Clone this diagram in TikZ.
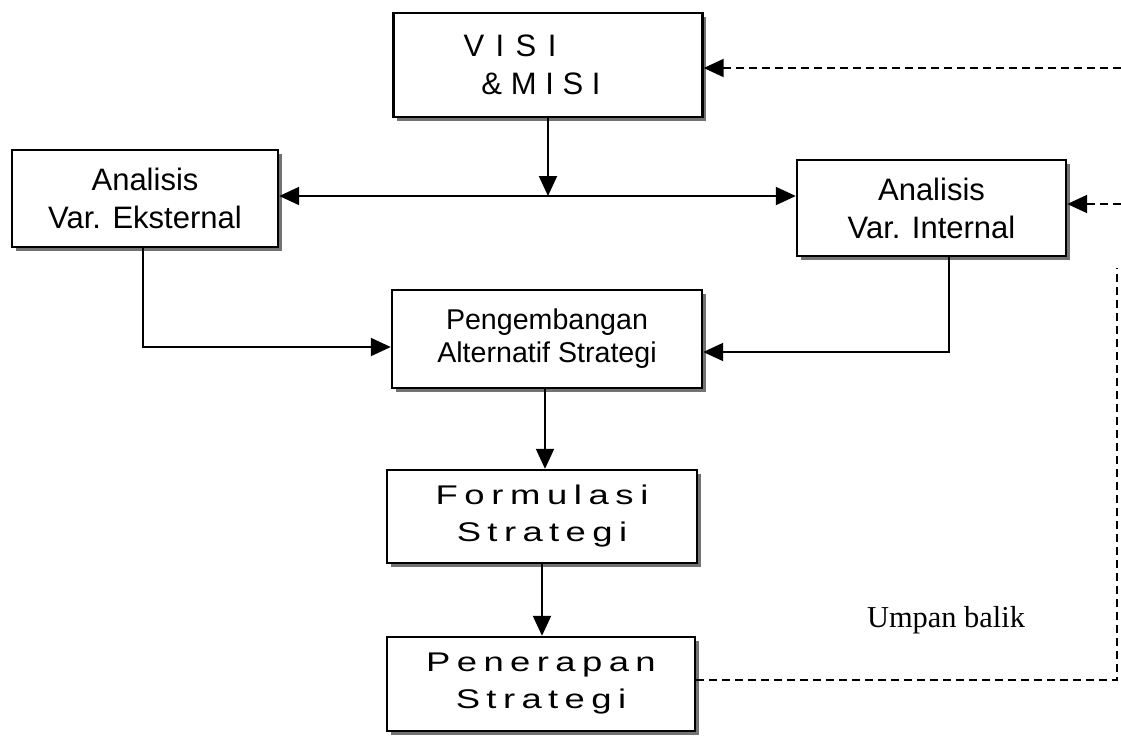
\documentclass[tikz,border=0pt]{standalone}
\usepackage{fontspec}
\setmainfont{Liberation Sans}
\newfontfamily\serifx{Liberation Serif}
\newfontfamily\widef[FakeStretch=1.35]{Liberation Sans}
\usetikzlibrary{arrows.meta,shadows}
\newcommand\lsp[2]{\def\lspgap{#1}\lspA#2\relax\unskip}
\def\lspA#1{\ifx\relax#1\else#1\hskip\lspgap\relax\expandafter\lspA\fi}
\tikzset{
  box/.style={draw, line width=1.2pt, fill=white, align=center, inner sep=0pt,
    drop shadow={shadow xshift=1.8pt, shadow yshift=-1.8pt, fill=black!55, opacity=1}},
  bigf/.style={font=\fontsize{15.5pt}{19pt}\selectfont},
  midf/.style={font=\fontsize{14.3pt}{16.5pt}\selectfont},
  smf/.style={font=\widef\fontsize{13.5pt}{18.5pt}\selectfont},
  arr/.style={line width=1pt, -{Triangle[length=10pt,width=9pt]}},
  biarr/.style={line width=1pt, {Triangle[length=10pt,width=9pt]}-{Triangle[length=10pt,width=9pt]}},
  fb/.style={line width=1pt, dash pattern=on 4pt off 2.5pt},
  fbarr/.style={fb, -{Triangle[length=10pt,width=9pt]}}
}
\begin{document}
\begin{tikzpicture}[x=0.5pt, y=-0.5pt]
\useasboundingbox (0,0) rectangle (1121,736);
\node[box, bigf, minimum width=154.5pt, minimum height=52pt] (visi) at (548,65)
  {\lsp{0.37em}{VISI}\kern38pt\\\lsp{0.28em}{\&MISI}\kern7pt};
\node[box, bigf, minimum width=133pt, minimum height=48.5pt] (ext) at (145,198.5)
  {Analisis\\Var. Eksternal};
\node[box, bigf, minimum width=134.5pt, minimum height=48pt] (int) at (931.5,208)
  {Analisis\\Var. Internal};
\node[box, midf, minimum width=155pt, minimum height=49pt] (peng) at (547,339)
  {Pengembangan\\Alternatif Strategi};
\node[box, smf, minimum width=155pt, minimum height=46.5pt] (form) at (542,516.5)
  {\lsp{3.3pt}{Formulasi}\\\lsp{3.2pt}{Strategi}};
\node[box, smf, minimum width=154pt, minimum height=47pt] (pen) at (541,684)
  {\lsp{3.2pt}{Penerapan}\\\lsp{3.2pt}{Strategi}};
\node[font=\serifx\fontsize{15.2pt}{18pt}\selectfont, inner sep=0pt] (umpan) at (946,620) {Umpan balik};
% connectors
\coordinate (mid) at (548,196);
\draw[biarr] (ext.east |- mid) -- (int.west |- mid);
\draw[arr] (visi.south) -- (mid);
\draw[arr] ([xshift=-1pt]ext.south) |- ([yshift=-4pt]peng.west);
\draw[arr] ([xshift=8.75pt]int.south) |- ([yshift=-6.5pt]peng.east);
\draw[arr] ([xshift=-1pt]peng.south) -- ([xshift=-1pt]peng.south |- form.north);
\draw[arr] (form.south) -- (form.south |- pen.north);
% feedback
\coordinate (fbc) at (1117,680);
\coordinate (fbt) at (1117,268);
\coordinate (r1) at (1121,68);
\coordinate (r2) at (1121,204);
\draw[fb] (pen.east |- fbc) -- (fbc) -- (fbt);
\draw[fbarr] (r1) -- (visi.east |- r1);
\draw[fbarr] (r2) -- (int.east |- r2);
\end{tikzpicture}
\end{document}
